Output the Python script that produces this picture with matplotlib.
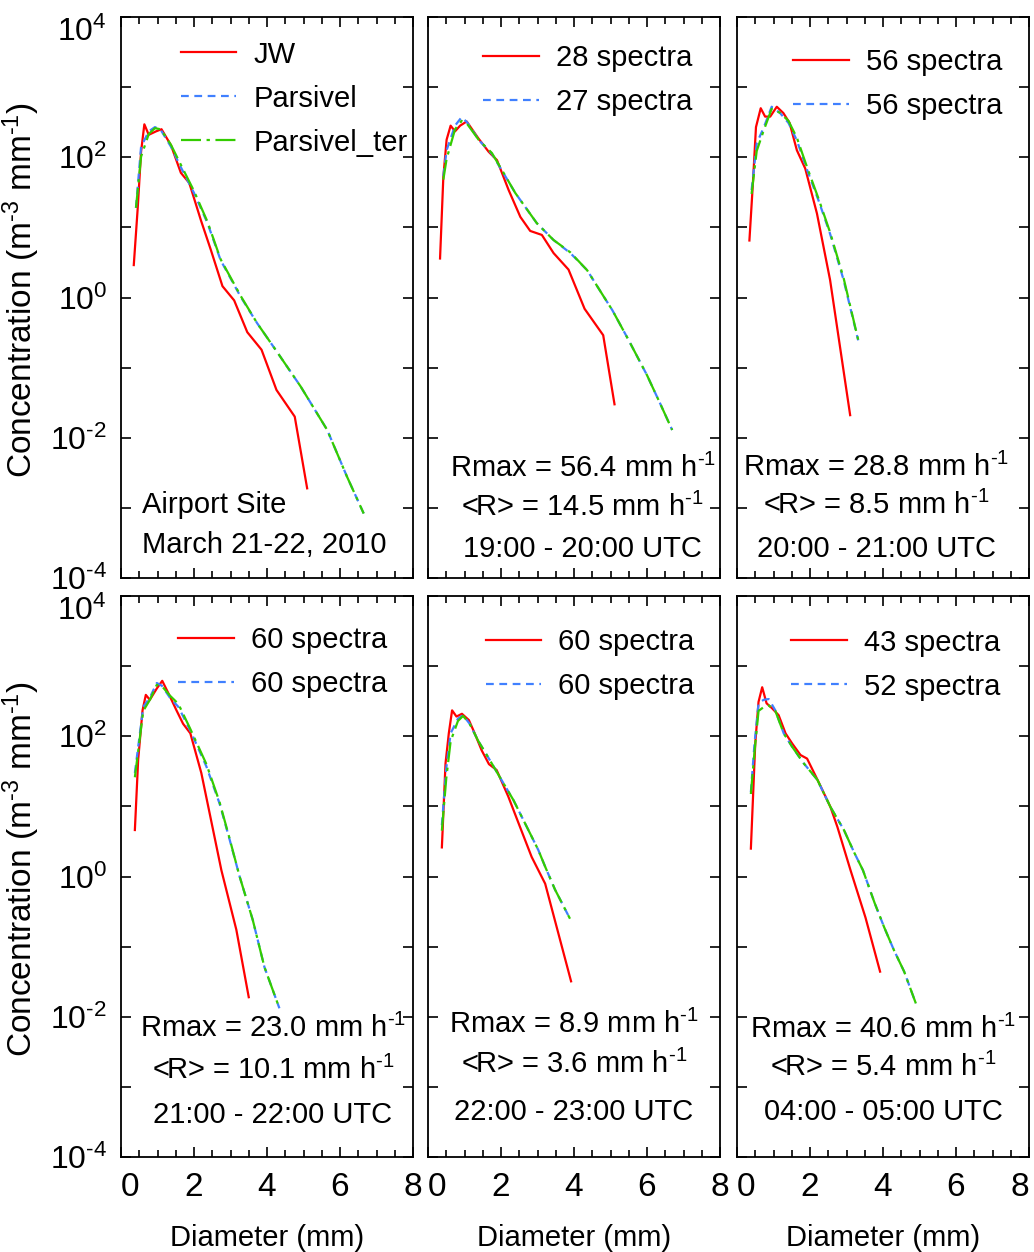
import matplotlib
matplotlib.use("Agg")
import matplotlib.pyplot as plt
from matplotlib.ticker import FixedLocator, NullFormatter, MultipleLocator

plt.rcParams['font.family'] = ['Liberation Sans', 'DejaVu Sans']
plt.rcParams['mathtext.fontset'] = 'custom'
plt.rcParams['mathtext.rm'] = 'Liberation Sans'
plt.rcParams['mathtext.it'] = 'Liberation Sans'
plt.rcParams['mathtext.default'] = 'regular'
plt.rcParams['axes.unicode_minus'] = False

# ---- data (diameter in mm, concentration in m^-3 mm^-1) ----
# panel 1: whole event
d_jw_1 = [0.35, 0.46, 0.55, 0.64, 0.76, 0.96, 1.11, 1.37, 1.64, 1.87, 2.19, 2.46, 2.78, 3.10, 3.46, 3.85, 4.26, 4.76, 5.10]
n_jw_1 = [2.9, 19.5, 120, 295, 209, 234, 251, 148, 60, 43, 12.6, 4.8, 1.45, 0.91, 0.32, 0.18, 0.048, 0.020, 0.0019]
d_par_1 = [0.41, 0.55, 0.76, 0.93, 1.09, 1.37, 1.64, 2.00, 2.37, 2.73, 3.28, 3.73, 4.28, 4.92, 5.65, 6.19, 6.65]
n_par_1 = [19, 141, 234, 269, 245, 141, 72, 31, 11.5, 3.4, 1.02, 0.43, 0.166, 0.054, 0.0129, 0.0028, 0.00083]
n_ter_1 = [19, 102, 214, 260, 250, 150, 78, 33, 12, 3.5, 1.05, 0.43, 0.166, 0.054, 0.0129, 0.0028, 0.00083]

# panel 2: 19-20 UTC
d_jw_2 = [0.33, 0.42, 0.51, 0.62, 0.74, 0.88, 1.06, 1.38, 1.66, 1.89, 2.21, 2.53, 2.80, 3.12, 3.44, 3.85, 4.29, 4.80, 5.11]
n_jw_2 = [3.6, 52, 178, 282, 234, 282, 324, 186, 120, 91, 34, 14.1, 8.9, 7.8, 4.3, 2.5, 0.69, 0.29, 0.030]
d_par_2 = [0.42, 0.51, 0.74, 0.92, 1.07, 1.40, 1.75, 2.07, 2.39, 2.98, 3.44, 3.90, 4.36, 4.82, 5.05, 5.50, 6.00, 6.37, 6.69]
n_par_2 = [54, 126, 282, 372, 316, 174, 112, 59, 31, 11.5, 6.6, 4.3, 2.45, 1.02, 0.66, 0.245, 0.078, 0.030, 0.0129]
n_ter_2 = [48, 95, 250, 330, 300, 174, 115, 60, 31, 11.5, 6.6, 4.4, 2.45, 1.02, 0.66, 0.245, 0.078, 0.030, 0.0129]

# panel 3: 20-21 UTC
d_jw_3 = [0.34, 0.43, 0.52, 0.65, 0.77, 0.91, 1.09, 1.27, 1.44, 1.64, 1.87, 2.19, 2.55, 3.10]
n_jw_3 = [6.5, 38, 269, 500, 380, 380, 525, 427, 309, 126, 69, 15.8, 1.78, 0.021]
d_par_3 = [0.40, 0.54, 0.73, 0.95, 1.18, 1.41, 1.64, 1.92, 2.23, 2.55, 2.92, 3.32]
n_par_3 = [34, 158, 263, 525, 427, 309, 174, 66, 24.5, 8.1, 1.78, 0.245]
n_ter_3 = [30, 123, 240, 490, 430, 330, 190, 72, 26, 8.5, 1.9, 0.25]

# panel 4: 21-22 UTC
d_jw_4 = [0.38, 0.47, 0.59, 0.68, 0.79, 0.98, 1.13, 1.32, 1.52, 1.70, 1.90, 2.20, 2.43, 2.75, 3.16, 3.50]
n_jw_4 = [4.6, 46, 234, 389, 331, 479, 617, 389, 234, 151, 110, 30, 7.9, 1.23, 0.174, 0.019]
d_par_4 = [0.38, 0.61, 0.79, 0.98, 1.12, 1.34, 1.57, 1.89, 2.34, 2.70, 2.98, 3.25, 3.61, 3.93, 4.34]
n_par_4 = [30, 263, 355, 575, 525, 355, 263, 123, 37, 11, 3.3, 1.0, 0.24, 0.051, 0.0132]
n_ter_4 = [26, 230, 330, 540, 520, 380, 290, 130, 40, 11.5, 3.4, 1.0, 0.24, 0.051, 0.0132]

# panel 5: 22-23 UTC
d_jw_5 = [0.38, 0.48, 0.57, 0.66, 0.78, 0.93, 1.12, 1.28, 1.47, 1.67, 1.88, 2.20, 2.52, 2.84, 3.21, 3.92]
n_jw_5 = [2.6, 41, 110, 234, 191, 209, 170, 110, 63, 40, 33, 13.8, 5.1, 1.9, 0.79, 0.032]
d_par_5 = [0.38, 0.50, 0.62, 0.82, 0.96, 1.14, 1.37, 1.69, 1.97, 2.34, 2.75, 3.02, 3.21, 3.48, 3.89]
n_par_5 = [5.4, 35, 110, 178, 200, 151, 87, 46, 26, 12.3, 4.6, 2.4, 1.38, 0.65, 0.25]
n_ter_5 = [4.5, 25, 85, 165, 195, 151, 87, 46, 26, 12.3, 4.6, 2.4, 1.38, 0.65, 0.25]

# panel 6: 04-05 UTC
d_jw_6 = [0.38, 0.50, 0.59, 0.69, 0.81, 0.96, 1.14, 1.33, 1.51, 1.74, 1.92, 2.24, 2.56, 2.75, 3.11, 3.52, 3.92]
n_jw_6 = [2.5, 79, 309, 500, 295, 251, 200, 110, 79, 54, 48, 22, 9.8, 5.1, 1.23, 0.26, 0.044]
d_par_6 = [0.38, 0.48, 0.59, 0.73, 0.87, 1.05, 1.28, 1.51, 1.83, 2.20, 2.56, 2.93, 3.21, 3.45, 3.77, 4.03, 4.30, 4.58, 4.90]
n_par_6 = [16, 79, 295, 331, 339, 234, 110, 71, 41, 24, 9.8, 4.6, 2.2, 1.23, 0.42, 0.19, 0.089, 0.044, 0.0155]
n_ter_6 = [15, 60, 230, 260, 275, 230, 110, 71, 41, 24, 9.8, 4.6, 2.2, 1.23, 0.42, 0.19, 0.089, 0.044, 0.0155]

legend_jw = ["JW", "28 spectra", "56 spectra", "60 spectra", "60 spectra", "43 spectra"]
legend_par = ["Parsivel", "27 spectra", "56 spectra", "60 spectra", "60 spectra", "52 spectra"]
U = r" mm h$^{\text{-}1}$"
notes = [
    ["Airport Site", "March 21-22, 2010"],
    ["Rmax = 56.4" + U, "<R> = 14.5" + U, "19:00 - 20:00 UTC"],
    ["Rmax = 28.8" + U, "<R> = 8.5" + U, "20:00 - 21:00 UTC"],
    ["Rmax = 23.0" + U, "<R> = 10.1" + U, "21:00 - 22:00 UTC"],
    ["Rmax = 8.9" + U, "<R> = 3.6" + U, "22:00 - 23:00 UTC"],
    ["Rmax = 40.6" + U, "<R> = 5.4" + U, "04:00 - 05:00 UTC"],
]
ytick_labels = [r"$10^{\text{-}4}$", r"$10^{\text{-}2}$", r"$10^{0}$", r"$10^{2}$", r"$10^{4}$"]
xtick_labels = ["0", "2", "4", "6", "8"]

panels = [
    (d_jw_1, n_jw_1, d_par_1, n_par_1, n_ter_1),
    (d_jw_2, n_jw_2, d_par_2, n_par_2, n_ter_2),
    (d_jw_3, n_jw_3, d_par_3, n_par_3, n_ter_3),
    (d_jw_4, n_jw_4, d_par_4, n_par_4, n_ter_4),
    (d_jw_5, n_jw_5, d_par_5, n_par_5, n_ter_5),
    (d_jw_6, n_jw_6, d_par_6, n_par_6, n_ter_6),
]

# ---- layout ----
W, H = 1034, 1252
fig = plt.figure(figsize=(W / 100, H / 100), dpi=100)
lefts = [121, 428, 737]
tops = [17, 596]
aw, ah = 292, 561
FS = 21
narrow = ['Liberation Sans Narrow', 'Liberation Sans', 'DejaVu Sans']

# note positions (x center, y list) in axes fraction
note_pos = [
    (0.073, [0.130, 0.058]),
    (0.53, [0.196, 0.125, 0.052]),
    (0.478, [0.198, 0.130, 0.052]),
    (0.52, [0.230, 0.155, 0.075]),
    (0.50, [0.236, 0.165, 0.080]),
    (0.50, [0.228, 0.160, 0.080]),
]
leg_pos = [(0.205, 0.958), (0.19, 0.952), (0.193, 0.945), (0.196, 0.947), (0.197, 0.943), (0.186, 0.942)]

red = "#ff0000"
blue = "#4080ff"
green = "#33cc00"

for i, (dj, nj, dp, npar, nter) in enumerate(panels):
    row, col = divmod(i, 3)
    x0 = lefts[col]
    y0 = tops[row]
    ax = fig.add_axes([x0 / W, 1 - (y0 + ah) / H, aw / W, ah / H])

    ax.plot(dj, nj, color=red, lw=1.6, label=legend_jw[i])
    ax.plot(dp, npar, color=blue, lw=1.6, dashes=(3.5, 2.5), label=legend_par[i])
    if i == 0:
        ax.plot(dp, nter, color=green, lw=1.6, dashes=(9, 2.5, 1.5, 2.5), label="Parsivel_ter")
    else:
        ax.plot(dp, nter, color=green, lw=1.6, dashes=(9, 2.5, 1.5, 2.5))

    ax.set_yscale("log")
    ax.set_xlim(0, 8)
    ax.set_ylim(1e-4, 1e4)
    ax.yaxis.set_major_locator(FixedLocator([1e-4, 1e-2, 1e0, 1e2, 1e4]))
    ax.yaxis.set_minor_locator(FixedLocator([1e-3, 1e-1, 1e1, 1e3]))
    ax.yaxis.set_minor_formatter(NullFormatter())
    ax.xaxis.set_major_locator(MultipleLocator(2))
    ax.xaxis.set_minor_locator(MultipleLocator(0.5))
    ax.tick_params(which="both", direction="in", top=True, right=True, width=1.2)
    ax.tick_params(which="major", length=7)
    ax.tick_params(which="minor", length=5)
    ax.tick_params(axis="y", which="minor", length=7)
    ax.tick_params(axis="x", pad=11)
    ax.tick_params(axis="y", pad=10)
    for s in ax.spines.values():
        s.set_linewidth(1.3)

    if col == 0:
        ax.set_yticklabels(ytick_labels, fontsize=23, fontfamily=narrow)
        ax.get_yticklabels()[-1].set_va("top")
        ax.set_ylabel(r"Concentration (m$^{\text{-}3}$ mm$^{\text{-}1}$)", fontsize=24)
        ax.yaxis.set_label_coords(-0.27, 0.513)
    else:
        ax.set_yticklabels([])
    if row == 1:
        ax.set_xticks([0, 2, 4, 6, 8])
        ax.set_xticklabels(xtick_labels, fontsize=24, fontfamily=narrow)
        ax.get_xticklabels()[0].set_ha("left")
        if col == 2:
            ax.get_xticklabels()[-1].set_ha("right")
        ax.set_xlabel("Diameter (mm)", fontsize=FS, labelpad=15)
    else:
        ax.set_xticklabels([])

    leg = ax.legend(loc="upper left", bbox_to_anchor=leg_pos[i], frameon=False, fontsize=FS,
                    handlelength=1.9, handletextpad=0.6, labelspacing=0.55,
                    borderpad=0, borderaxespad=0)
    for t in leg.get_texts():
        t.set_clip_box(ax.bbox)
        t.set_clip_on(True)

    xn, ys = note_pos[i]
    ha = "left" if i == 0 else "center"
    for txt, yy in zip(notes[i], ys):
        ax.text(xn, yy, txt, transform=ax.transAxes, fontsize=FS, ha=ha, va="center")

fig.savefig("out.png", dpi=100)
